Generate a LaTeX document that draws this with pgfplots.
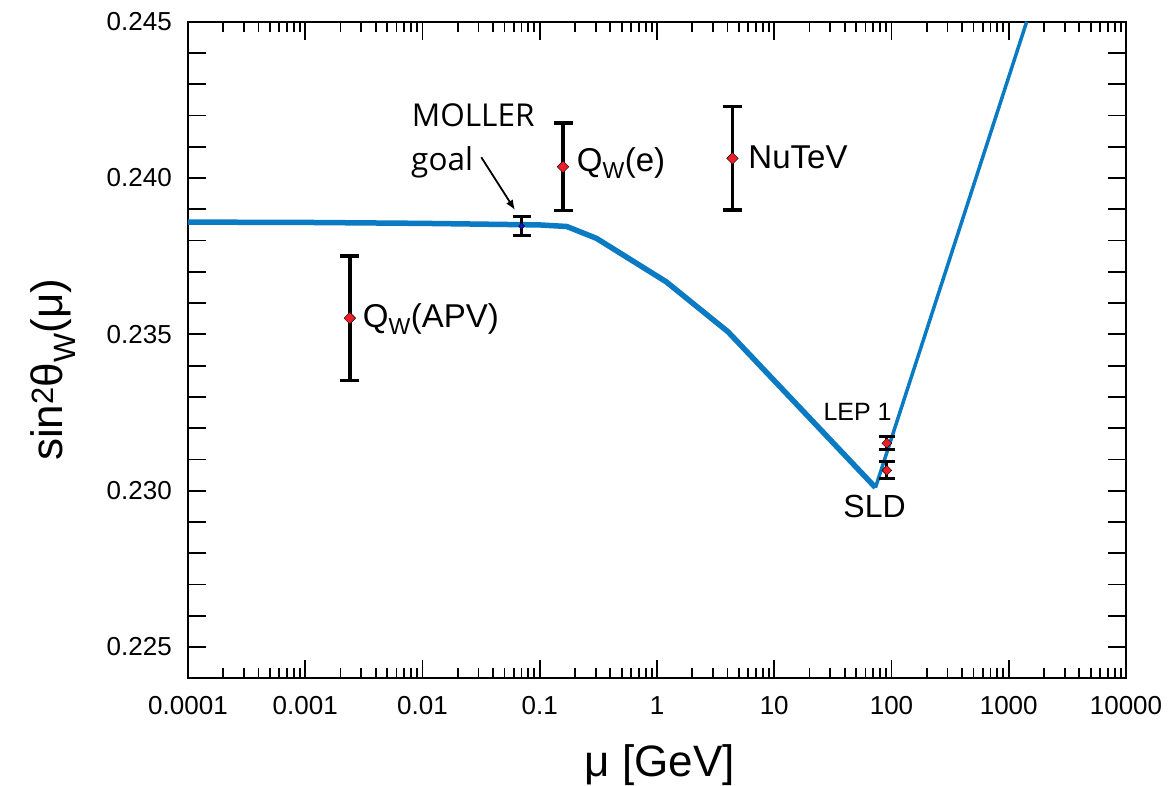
\documentclass[border=0pt]{standalone}
\usepackage{pgfplots}
\pgfplotsset{compat=1.18}
\usetikzlibrary{arrows.meta}
\usepackage{fontspec}
\setmainfont{Liberation Sans}
\newfontfamily\osans{Open Sans}
\definecolor{curveblue}{RGB}{10,122,194}
\definecolor{ptred}{RGB}{236,30,40}
\definecolor{ptblue}{RGB}{20,20,215}
\begin{document}
\begin{tikzpicture}
\begin{axis}[
  scale only axis, width=938pt, height=656.6pt,
  xmode=log, xmin=1e-4, xmax=1e4, ymin=0.224, ymax=0.245,
  xtick={1e-4,1e-3,0.01,0.1,1,10,100,1000,10000},
  xticklabels={0.0001,0.001,0.01,0.1,1,10,100,1000,10000},
  minor xtick={2e-4,3e-4,4e-4,5e-4,6e-4,7e-4,8e-4,9e-4,
    2e-3,3e-3,4e-3,5e-3,6e-3,7e-3,8e-3,9e-3,
    0.02,0.03,0.04,0.05,0.06,0.07,0.08,0.09,
    0.2,0.3,0.4,0.5,0.6,0.7,0.8,0.9,
    2,3,4,5,6,7,8,9,
    20,30,40,50,60,70,80,90,
    200,300,400,500,600,700,800,900,
    2000,3000,4000,5000,6000,7000,8000,9000},
  ytick={0.224,0.225,0.226,0.227,0.228,0.229,0.230,0.231,0.232,0.233,0.234,
         0.235,0.236,0.237,0.238,0.239,0.240,0.241,0.242,0.243,0.244,0.245},
  yticklabels={,0.225,,,,,0.230,,,,,0.235,,,,,0.240,,,,,0.245},
  tick align=inside,
  major tick length=18.5pt, minor tick length=10pt,
  every tick/.style={black, line width=1.8pt},
  axis line style={black, line width=2pt},
  ticklabel style={font=\fontsize{26}{30}\selectfont, inner sep=0pt},
  xticklabel shift=18pt, yticklabel shift=16pt,
  clip mode=individual,
]
% running curve
\addplot[curveblue, line width=5.5pt, line join=round] coordinates {
  (1e-4,0.23859) (1e-3,0.23858) (1e-2,0.23855) (0.1,0.23850) (0.17,0.23845)
  (0.305,0.23807) (1.2,0.23668) (4.04,0.23508) (73,0.23010)};
\addplot[curveblue, line width=3.5pt] coordinates {
  (73,0.23010) (1422,0.245)};
% measurements
\addplot[only marks, mark=square*, mark size=4.1pt,
  mark options={rotate=45, fill=ptred, draw=none},
  error bars/.cd, y dir=both, y explicit,
  error bar style={black, line width=3.5pt},
  error mark options={black, rotate=90, line width=3.5pt, mark size=9.5pt}]
  coordinates {
  (0.0024,0.23552) +- (0,0.00199)
  (0.158,0.24036) +- (0,0.0014)
  (4.4,0.24063) +- (0,0.00165)};
\addplot[only marks, mark=square*, mark size=3.5pt,
  mark options={rotate=45, fill=ptred, draw=none},
  error bars/.cd, y dir=both, y explicit,
  error bar style={black, line width=3pt},
  error mark options={black, rotate=90, line width=3pt, mark size=8pt}]
  coordinates {
  (91.2,0.23152) +- (0,0.0002)
  (91.2,0.23065) +- (0,0.00027)};
\addplot[only marks, mark=square*, mark size=2.2pt,
  mark options={rotate=45, fill=ptblue, draw=none},
  error bars/.cd, y dir=both, y explicit,
  error bar style={black, line width=3pt},
  error mark options={black, rotate=90, line width=3pt, mark size=9pt}]
  coordinates {(0.07,0.23846) +- (0,0.0003)};
% labels
\node[anchor=base west, inner sep=0pt, font=\fontsize{33}{38}\selectfont]
  at (axis description cs:0.1862,0.535) {Q\textsubscript{W}(APV)};
\node[anchor=base west, inner sep=0pt, font=\fontsize{33}{38}\selectfont]
  at (axis description cs:0.4144,0.7726) {Q\textsubscript{W}(e)};
\node[anchor=base west, inner sep=0pt, font=\fontsize{33}{38}\selectfont]
  at (axis description cs:0.5973,0.7767) {NuTeV};
\node[anchor=base west, inner sep=0pt, font=\fontsize{25}{30}\selectfont]
  at (axis description cs:0.6773,0.3923) {LEP 1};
\node[anchor=base west, inner sep=0pt, font=\fontsize{32}{38}\selectfont]
  at (axis description cs:0.6986,0.2452) {SLD};
\node[anchor=base west, inner sep=0pt, font=\osans\fontsize{31.5}{36}\selectfont]
  at (axis description cs:0.2385,0.8401) {MOLLER};
\node[anchor=base west, inner sep=0pt, font=\osans\fontsize{31.5}{36}\selectfont]
  at (axis description cs:0.2378,0.7741) {goal};
\draw[black, line width=1.8pt, -{Latex[length=10pt,width=8pt]}]
  (axis description cs:0.3127,0.7935) -- (axis description cs:0.3486,0.7132);
% axis labels
\node[anchor=base, inner sep=0pt, font=\fontsize{44}{50}\selectfont]
  at (axis description cs:0.503,-0.150) {μ [GeV]};
\node[anchor=base, rotate=90, inner sep=0pt, font=\fontsize{44}{50}\selectfont]
  at (axis description cs:-0.1333,0.47) {sin\textsuperscript{2}θ\textsubscript{W}(μ)};
\end{axis}
\pgfresetboundingbox
\path[use as bounding box] ([shift={(-188pt,-106.7pt)}]current axis.south west)
  rectangle ([shift={(43pt,21.7pt)}]current axis.north east);
\end{tikzpicture}
\end{document}
